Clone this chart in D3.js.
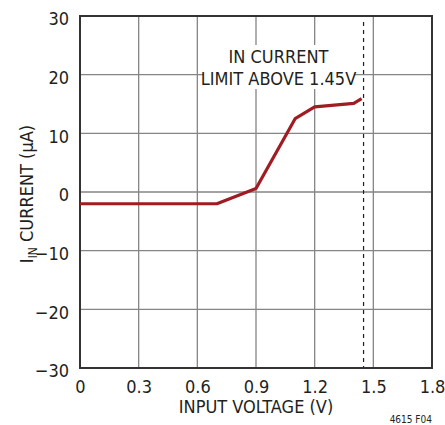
<!DOCTYPE html>
<html>
<head>
<meta charset="utf-8">
<script src="https://cdn.jsdelivr.net/npm/d3@7"></script>
<style>
  body { margin: 0; background: #fff; }
  text { font-family: "DejaVu Sans Condensed", "Liberation Sans", sans-serif; fill: #231f20; }
</style>
</head>
<body>
<div id="chart"></div>
<script>
// data
const voltage = [0, 0.3, 0.6, 0.7, 0.9, 1.1, 1.2, 1.4, 1.44];
const current = [-2, -2, -2, -2, 0.6, 12.5, 14.5, 15.1, 15.9];
const xTicks = [0, 0.3, 0.6, 0.9, 1.2, 1.5, 1.8];
const yTicks = [-30, -20, -10, 0, 10, 20, 30];
const limitV = 1.45;
const noteLines = ["IN CURRENT", "LIMIT ABOVE 1.45V"];

const width = 445, height = 425;
const margin = { top: 16, right: 13, bottom: 57, left: 80 };

const svg = d3.select("#chart").append("svg")
  .attr("width", width)
  .attr("height", height);

const x = d3.scaleLinear().domain([0, 1.8]).range([margin.left, width - margin.right]);
const y = d3.scaleLinear().domain([-30, 30]).range([height - margin.bottom, margin.top]);

// grid
svg.append("g")
  .selectAll("line")
  .data(xTicks.slice(1, -1))
  .join("line")
  .attr("x1", d => x(d)).attr("x2", d => x(d))
  .attr("y1", y(30)).attr("y2", y(-30))
  .attr("stroke", "#858585").attr("stroke-width", 1.3);

svg.append("g")
  .selectAll("line")
  .data(yTicks.slice(1, -1))
  .join("line")
  .attr("x1", x(0)).attr("x2", x(1.8))
  .attr("y1", d => y(d)).attr("y2", d => y(d))
  .attr("stroke", "#858585").attr("stroke-width", 1.3);

// dashed current limit marker
svg.append("line")
  .attr("x1", x(limitV)).attr("x2", x(limitV))
  .attr("y1", margin.top + 6).attr("y2", y(-30))
  .attr("stroke", "#231f20")
  .attr("stroke-width", 1.2)
  .attr("stroke-dasharray", "4,4");

// annotation with white box
const noteX = 278.5;
svg.append("rect")
  .attr("x", 204).attr("y", 45)
  .attr("width", 150).attr("height", 44)
  .attr("fill", "#fff");

svg.append("g")
  .selectAll("text")
  .data(noteLines)
  .join("text")
  .attr("x", noteX)
  .attr("y", (d, i) => 63 + i * 22)
  .attr("text-anchor", "middle")
  .attr("font-size", 18)
  .text(d => d);

// frame
svg.append("rect")
  .attr("x", x(0)).attr("y", y(30))
  .attr("width", x(1.8) - x(0))
  .attr("height", y(-30) - y(30))
  .attr("fill", "none")
  .attr("stroke", "#333")
  .attr("stroke-width", 2);

// curve
const line = d3.line()
  .x((d, i) => x(voltage[i]))
  .y(d => y(d));

svg.append("path")
  .datum(current)
  .attr("d", line)
  .attr("fill", "none")
  .attr("stroke", "#a01c22")
  .attr("stroke-width", 3.2)
  .attr("stroke-linejoin", "round");

// axes: numbers only, no tick marks
const xAxis = d3.axisBottom(x).tickValues(xTicks).tickSize(0).tickPadding(12)
  .tickFormat(d => d === 0 ? "0" : d3.format(".1f")(d));
const xg = svg.append("g")
  .attr("transform", `translate(0,${y(-30)})`)
  .call(xAxis)
  .attr("font-family", null);
xg.select(".domain").remove();
xg.selectAll("text").attr("font-size", 18).attr("fill", "#231f20");

const yAxis = d3.axisLeft(y).tickValues(yTicks).tickSize(0).tickPadding(11)
  .tickFormat(d => d < 0 ? "\u2212" + Math.abs(d) : d);
const yg = svg.append("g")
  .attr("transform", `translate(${x(0)},3)`)
  .call(yAxis)
  .attr("font-family", null);
yg.select(".domain").remove();
yg.selectAll("text").attr("font-size", 18).attr("fill", "#231f20");

// axis titles
svg.append("text")
  .attr("x", (x(0) + x(1.8)) / 2)
  .attr("y", 413)
  .attr("text-anchor", "middle")
  .attr("font-size", 18)
  .text("INPUT VOLTAGE (V)");

const yt = svg.append("text")
  .attr("transform", `translate(33,${(y(30) + y(-30)) / 2 + 2}) rotate(-90)`)
  .attr("text-anchor", "middle")
  .attr("font-size", 18);
yt.append("tspan").text("I");
yt.append("tspan").attr("font-size", 12).attr("dy", 4).text("IN");
yt.append("tspan").attr("dy", -4).text(" CURRENT (\u03bcA)");

svg.append("text")
  .attr("x", 432)
  .attr("y", 423)
  .attr("text-anchor", "end")
  .attr("font-size", 10)
  .text("4615 F04");
</script>
</body>
</html>
